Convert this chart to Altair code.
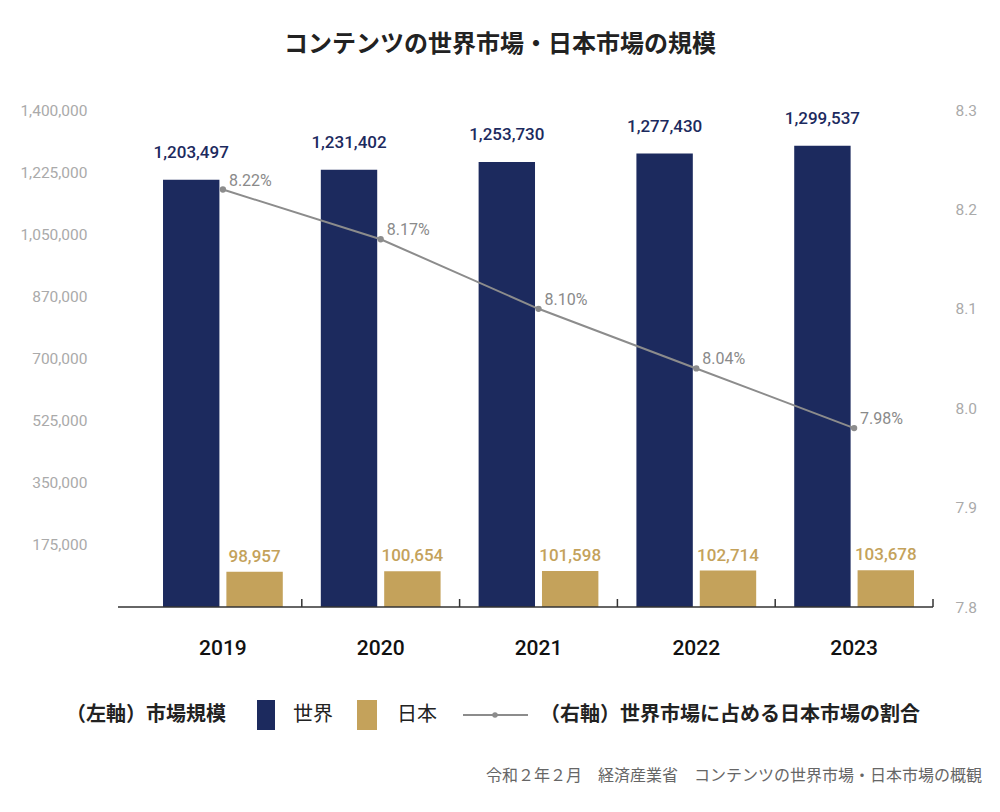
import altair as alt
import pandas as pd

years = ["2019", "2020", "2021", "2022", "2023"]
world = [1203497, 1231402, 1253730, 1277430, 1299537]
japan = [98957, 100654, 101598, 102714, 103678]
share = [8.22, 8.17, 8.10, 8.04, 7.98]
left_ticks = [175000, 350000, 525000, 700000, 875000, 1050000, 1225000, 1400000]
right_ticks = [7.8, 7.9, 8.0, 8.1, 8.2, 8.3]
series_names = ["世界", "日本"]
series_colors = ["#1c2a5e", "#c4a25b"]

title_text = "コンテンツの世界市場・日本市場の規模"
legend_left = "（左軸）市場規模"
legend_right = "（右軸）世界市場に占める日本市場の割合"
source_text = "令和２年２月　経済産業省　コンテンツの世界市場・日本市場の概観"

JP = "Noto Sans CJK JP"
NUM = "Roboto"
W, H = 789, 497

bars_df = pd.DataFrame({
    "year": years * 2,
    "series": [series_names[0]] * 5 + [series_names[1]] * 5,
    "value": world + japan,
})
line_df = pd.DataFrame({"year": years, "share": share})
dummy = pd.DataFrame({"d": [0]})

x_axis = alt.Axis(title=None, labelAngle=0, domain=False, ticks=False, labelPadding=30,
                  labelFontSize=21, labelColor="#111", labelFont=NUM, labelFontWeight=500)
x_scale = alt.Scale(paddingInner=0, paddingOuter=0)
x_enc = alt.X("year:N", axis=x_axis, scale=x_scale, sort=years)
xoff = alt.XOffset("series:N", sort=series_names,
                   scale=alt.Scale(paddingInner=0.11, paddingOuter=0.3))

y_left = alt.Y("value:Q", scale=alt.Scale(domain=[0, 1400000]),
               axis=alt.Axis(title=None, values=left_ticks, domain=False, ticks=False, grid=False,
                             labelPadding=57, labelFontSize=15.5, labelColor="#aaaaaa", labelFont=NUM,
                             labelExpr="datum.value == 875000 ? '870,000' : format(datum.value, ',')"))

bars = alt.Chart(bars_df).mark_bar().encode(
    x=x_enc, xOffset=xoff, y=y_left,
    color=alt.Color("series:N", scale=alt.Scale(domain=series_names, range=series_colors), legend=None),
)
world_lbl = alt.Chart(bars_df).transform_filter(alt.datum.series == series_names[0]).mark_text(
    font=NUM, fontSize=17, fontWeight=500, color=series_colors[0], baseline="middle", dy=-27
).encode(x=x_enc, xOffset=xoff, y=y_left, text=alt.Text("value:Q", format=","))
japan_lbl = alt.Chart(bars_df).transform_filter(alt.datum.series == series_names[1]).mark_text(
    font=NUM, fontSize=17, fontWeight=500, color=series_colors[1], baseline="middle", dy=-15
).encode(x=x_enc, xOffset=xoff, y=y_left, text=alt.Text("value:Q", format=","))
left_layer = alt.layer(bars, world_lbl, japan_lbl)

y_right = alt.Y("share:Q", scale=alt.Scale(domain=[7.8, 8.3]),
                axis=alt.Axis(title=None, orient="right", values=right_ticks, format=".1f", domain=False,
                              ticks=False, grid=False, labelPadding=22, labelFontSize=15.5,
                              labelColor="#aaaaaa", labelFont=NUM))
line = alt.Chart(line_df).mark_line(color="#8c8c8c", strokeWidth=2).encode(x=x_enc, y=y_right)
pts = alt.Chart(line_df).mark_point(filled=True, color="#8c8c8c", size=40, opacity=1).encode(x=x_enc, y=y_right)
pct = alt.Chart(line_df).transform_calculate(
    lbl="format(datum.share, '.2f') + '%'"
).mark_text(font=NUM, fontSize=16, color="#8a8a8a", align="left",
            baseline="middle", dx=6, dy=-9).encode(x=x_enc, y=y_right, text="lbl:N")
right_layer = alt.layer(line, pts, pct)

ticks = alt.Chart(line_df).mark_rule(color="#333", strokeWidth=1.5).encode(
    x=alt.X("year:N", bandPosition=1, axis=x_axis, scale=x_scale, sort=years),
    y=alt.value(H - 8), y2=alt.value(H))
baseline = alt.Chart(dummy).mark_rule(color="#333", strokeWidth=1.5).encode(
    x=alt.value(-26), x2=alt.value(W), y=alt.value(H))

def txt(text, x, y, size, weight="normal", color="#222", align="left", font=JP):
    return alt.Chart(dummy).mark_text(text=text, font=font, fontSize=size, fontWeight=weight,
                                      color=color, align=align, baseline="middle").encode(
        x=alt.value(x), y=alt.value(y))

def box(x, x2, y, y2, color):
    return alt.Chart(dummy).mark_rect(color=color).encode(
        x=alt.value(x), x2=alt.value(x2), y=alt.value(y), y2=alt.value(y2))

title = txt(title_text, 356, -65, 24, "bold", "#222", "center")
leg1 = txt(legend_left, -78, 605, 20, "bold")
sq1 = box(113, 131, 590, 620, series_colors[0])
leg2 = txt(series_names[0], 149, 605, 20)
sq2 = box(213, 233, 590, 620, series_colors[1])
leg3 = txt(series_names[1], 253, 605, 20)
legline = alt.Chart(dummy).mark_rule(color="#8c8c8c", strokeWidth=2).encode(
    x=alt.value(319), x2=alt.value(384), y=alt.value(605))
legdot = alt.Chart(dummy).mark_point(filled=True, color="#8c8c8c", size=30, opacity=1).encode(
    x=alt.value(351), y=alt.value(605))
leg4 = txt(legend_right, 396, 605, 20, "bold")
source = txt(source_text, 838, 666, 16, "normal", "#666", "right")

chart = alt.layer(
    left_layer, right_layer, ticks, baseline, title, leg1, sq1, leg2, sq2, leg3,
    legline, legdot, leg4, source
).resolve_scale(y="independent").properties(
    width=W, height=H,
    autosize=alt.AutoSizeParams(type="none"),
    padding={"left": 144, "top": 110, "right": 67, "bottom": 205},
    background="white",
).configure_view(stroke=None)

chart.save("out.html", embed_options={"renderer": "svg", "actions": False})
